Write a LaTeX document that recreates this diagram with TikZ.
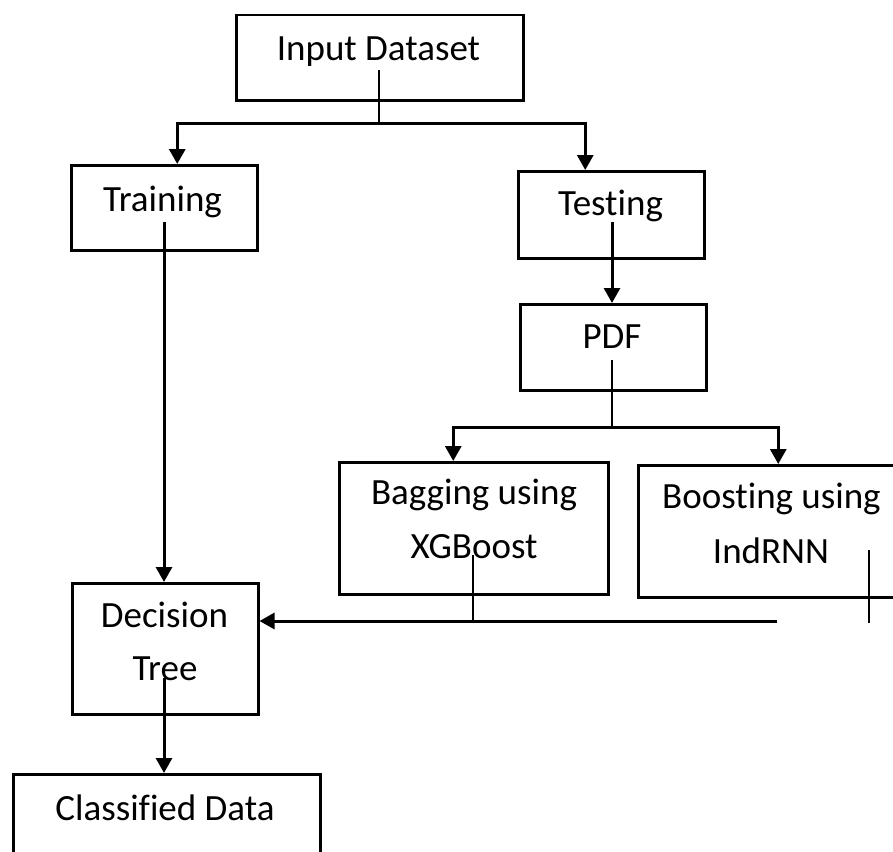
\documentclass[tikz,border=0pt]{standalone}
\usepackage{fontspec}
\setmainfont{Carlito}[Ligatures={NoCommon}]
\usetikzlibrary{arrows.meta}
\begin{document}
\begin{tikzpicture}[x=1pt,y=-1pt,
  box/.style={draw, line width=2.5pt, inner sep=0pt, anchor=north west},
  lbl/.style={font=\fontsize{37}{44}\selectfont, anchor=base, inner sep=0pt},
  thin/.style={line width=1.8pt},
  arr/.style={line width=3pt, -{Triangle[length=15pt,width=16pt]}}]
\useasboundingbox (0,0) rectangle (893,851);
\clip (0,0) rectangle (893,851);

% boxes
\node[box, minimum width=287pt, minimum height=85pt]  (inp)   at (235,14)  {};
\node[box, minimum width=186pt, minimum height=85pt]  (train) at (70,164)  {};
\node[box, minimum width=186pt, minimum height=87pt]  (test)  at (517,170) {};
\node[box, minimum width=186pt, minimum height=86pt]  (pdf)   at (519,303) {};
\node[box, minimum width=269pt, minimum height=132pt] (bag)   at (338,461) {};
\node[box, minimum width=273pt, minimum height=132pt] (boost) at (637,464) {};
\node[box, minimum width=186pt, minimum height=131pt] (dt)    at (71,582)  {};
\node[box, minimum width=307pt, minimum height=97pt]  (cls)   at (12,773)  {};

% labels
\node[lbl] (inpT)    at (378.5,60) {Input Dataset};
\node[lbl] (trainT)  at (162.5,211) {Training};
\node[lbl] (testT)   at (610.5,215) {Testing};
\node[lbl] (pdfT)    at (612,348) {PDF};
\node[lbl] (bagT1)   at (474,504) {Bagging using};
\node[lbl] (bagT2)   at (474,558) {XGBoost};
\node[lbl] (boostT1) at (771.5,508) {Boosting using};
\node[lbl] (boostT2) at (771,563) {IndRNN};
\node[lbl] (dtT1)    at (164.5,627) {Decision};
\node[lbl] (dtT2)    at (165,680) {Tree};
\node[lbl] (clsT)    at (165,820) {Classified Data};

% connector points
\coordinate (inpS)   at (379,70);
\coordinate (jIn)    at (379,123);
\coordinate (testS)  at (612,222);
\coordinate (pdfS)   at (612,360);
\coordinate (jPdf)   at (612,427);
\coordinate (trainS) at (164,222);
\coordinate (dtS)    at (164,678);
\coordinate (bagS)   at (473,555);
\coordinate (hR)     at (777,621);
\coordinate (boostS) at (869,550);
\coordinate (boostE) at (869,623);

% connectors
\draw[thin] (inpS) -- (jIn);
\draw[arr] (jIn) -| ([xshift=13pt]train.north);
\draw[arr] (jIn) -| ([xshift=-26pt]test.north);
\draw[arr] (testS) -- (pdf.north -| testS);
\draw[thin] (pdfS) -- (jPdf);
\draw[arr] (jPdf) -| ([xshift=-20.5pt]bag.north);
\draw[arr] (jPdf) -| ([xshift=3.5pt]boost.north);
\draw[arr] (trainS) -- (dt.north -| trainS);
\draw[arr] (dtS) -- (cls.north -| dtS);
\draw[thin] (bagS) -- (bagS |- hR);
\draw[arr] (hR) -- (dt.east |- hR);
\draw[thin] (boostS) -- (boostE);
\end{tikzpicture}
\end{document}
